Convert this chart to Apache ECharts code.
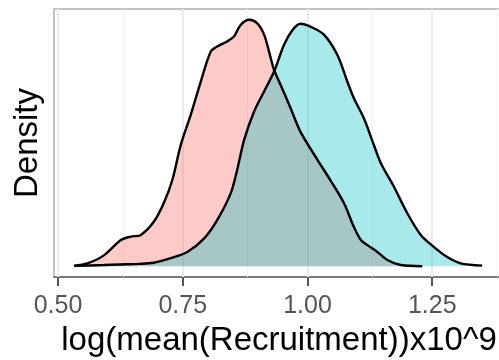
<!DOCTYPE html>
<html>
<head>
<meta charset="utf-8">
<script src="https://cdn.jsdelivr.net/npm/echarts@6/dist/echarts.min.js"></script>
<style>
  html, body { margin: 0; padding: 0; background: #fff; }
  #chart { width: 499px; height: 360px; }
</style>
</head>
<body>
<div id="chart"></div>
<script>
// density curves (x = log(mean(Recruitment))x10^9)
const redX = [0.532, 0.559, 0.592, 0.626, 0.646, 0.666, 0.692, 0.712, 0.729, 0.746, 0.766, 0.786,
  0.806, 0.819, 0.839, 0.853, 0.866, 0.883, 0.899, 0.913, 0.923, 0.933, 0.946, 0.966, 0.986,
  1.020, 1.046, 1.073, 1.093, 1.107, 1.120, 1.140, 1.160, 1.187, 1.230]
const redDensity = [0.01, 0.05, 0.19, 0.46, 0.52, 0.55, 0.78, 1.11, 1.51, 2.13, 2.66, 3.24,
  3.77, 3.86, 3.95, 4.04, 4.24, 4.33, 4.27, 4.07, 3.77, 3.45, 3.19, 2.78, 2.36,
  1.87, 1.51, 1.11, 0.69, 0.46, 0.37, 0.25, 0.11, 0.02, 0.0]

const tealX = [0.532, 0.592, 0.624, 0.664, 0.692, 0.726, 0.759, 0.793, 0.819, 0.846, 0.859, 0.873,
  0.893, 0.913, 0.933, 0.953, 0.970, 0.986, 1.006, 1.033, 1.060, 1.080, 1.093, 1.113, 1.133,
  1.147, 1.173, 1.200, 1.227, 1.253, 1.280, 1.307, 1.350]
const tealDensity = [0.005, 0.02, 0.03, 0.04, 0.06, 0.14, 0.25, 0.49, 0.81, 1.28, 1.69, 2.22,
  2.72, 3.07, 3.42, 3.89, 4.15, 4.26, 4.21, 4.07, 3.71, 3.24, 2.95, 2.60, 2.13,
  1.81, 1.40, 0.93, 0.55, 0.34, 0.16, 0.05, 0.01]

const xTicks = [0.5, 0.75, 1.0, 1.25]
const xMinorTicks = [0.625, 0.875, 1.125, 1.375]

const pair = (xs, ys) => xs.map((x, i) => [x, ys[i]])

const chart = echarts.init(document.getElementById('chart'))
const font = 'Liberation Sans, Arial, Helvetica, sans-serif'

const option = {
  animation: false,
  grid: {
    left: 54,
    top: 9,
    right: -5,
    bottom: 83,
    outerBoundsMode: 'none',
    containLabel: false,
    show: true,
    borderColor: '#c2c2c2',
    borderWidth: 2,
    backgroundColor: '#fff'
  },
  xAxis: {
    type: 'value',
    min: 0.492,
    max: 1.3938,
    name: 'log(mean(Recruitment))x10^9',
    nameLocation: 'middle',
    nameGap: 47,
    nameTextStyle: { color: '#000', fontSize: 33, fontFamily: font },
    axisLine: { show: true, onZero: false, lineStyle: { color: '#7a7a7a', width: 2 } },
    axisTick: {
      show: true,
      customValues: xTicks,
      length: 9,
      lineStyle: { color: '#555', width: 2 }
    },
    axisLabel: {
      customValues: xTicks,
      margin: 17,
      color: '#555',
      fontSize: 25,
      fontFamily: font,
      formatter: (v) => v.toFixed(2)
    },
    splitLine: { show: false }
  },
  yAxis: {
    type: 'value',
    min: -0.19,
    max: 4.52,
    name: 'Density',
    nameLocation: 'middle',
    nameRotate: 90,
    nameGap: 10,
    nameTextStyle: { color: '#000', fontSize: 33, fontFamily: font },
    axisLine: { show: false },
    axisTick: { show: false },
    axisLabel: { show: false },
    splitLine: { show: false }
  },
  series: [
    {
      name: 'grid',
      type: 'line',
      data: [],
      z: 1,
      markLine: {
        z: 1,
        silent: true,
        symbol: 'none',
        label: { show: false },
        data: [
          ...xTicks.map((v) => ({ xAxis: v, lineStyle: { color: '#ebebeb', width: 2, type: 'solid' } })),
          ...xMinorTicks.map((v) => ({ xAxis: v, lineStyle: { color: '#f2f2f2', width: 1, type: 'solid' } }))
        ]
      }
    },
    {
      name: 'red',
      type: 'line',
      data: pair(redX, redDensity),
      smooth: 0.3,
      symbol: 'none',
      lineStyle: { color: '#000', width: 2.4 },
      areaStyle: { color: 'rgba(248, 118, 109, 0.38)', opacity: 1, origin: 0 }
    },
    {
      name: 'teal',
      type: 'line',
      data: pair(tealX, tealDensity),
      smooth: 0.3,
      symbol: 'none',
      lineStyle: { color: '#000', width: 2.4 },
      areaStyle: { color: 'rgba(0, 191, 196, 0.34)', opacity: 1, origin: 0 }
    }
  ]
}

chart.setOption(option)
</script>
</body>
</html>
